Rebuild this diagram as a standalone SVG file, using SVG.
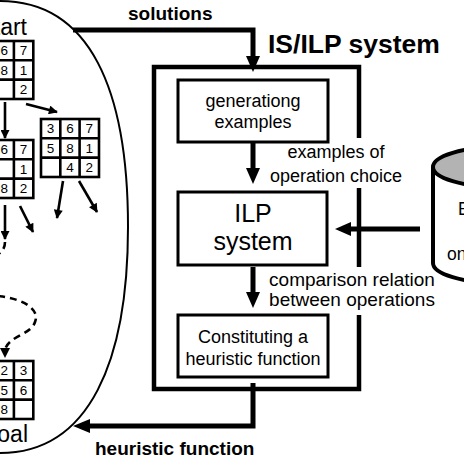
<svg xmlns="http://www.w3.org/2000/svg" width="464" height="464" viewBox="0 0 464 464">
<defs>
<style>
.grid text{font-family:"Liberation Sans",Arial,sans-serif;font-size:13.5px;text-anchor:middle;fill:#000}
.big{font-family:"Liberation Sans",Arial,sans-serif;font-size:23px;fill:#000}
.bold{font-family:"Liberation Sans",Arial,sans-serif;font-weight:bold;fill:#000}
.lbl{font-family:"Liberation Sans",Arial,sans-serif;font-size:18px;fill:#000;text-anchor:middle}
.box{fill:#fff;stroke:#000;stroke-width:3}
.thick{fill:none;stroke:#000;stroke-width:5}
.frame{fill:none;stroke:#000;stroke-width:4.5}
.thin{fill:none;stroke:#000;stroke-width:2.6}
.dash{fill:none;stroke:#000;stroke-width:2.6;stroke-dasharray:7 5}
</style>
<marker id="ah" viewBox="0 0 10 10" refX="9" refY="5" markerWidth="10" markerHeight="9" markerUnits="userSpaceOnUse" orient="auto">
<path d="M0,0 L10,5 L0,10 z" fill="#000"/>
</marker>
<g id="g3x3" fill="none" stroke="#000" stroke-width="2.6">
<rect x="0" y="0" width="58" height="58"/>
<line x1="19.3" y1="0" x2="19.3" y2="58"/>
<line x1="38.6" y1="0" x2="38.6" y2="58"/>
<line x1="0" y1="19.3" x2="58" y2="19.3"/>
<line x1="0" y1="38.6" x2="58" y2="38.6"/>
</g>
</defs>
<rect width="464" height="464" fill="#fff"/>

<g id="search-space">
<path d="M -10 1 L 0 1 C 90 1, 128 90, 128 227 C 128 360, 90 453, 0 453 L -10 453" fill="none" stroke="#000" stroke-width="2"/>
<text class="big" x="27" y="35" text-anchor="end">Start</text>
<text class="big" x="28" y="442" text-anchor="end">Goal</text>
</g>

<g id="state-start" class="grid" transform="translate(-24.7,41)">
<use href="#g3x3"/>
<text x="9.6" y="14.4">3</text><text x="29" y="14.4">6</text><text x="48.3" y="14.4">7</text>
<text x="9.6" y="33.7">5</text><text x="29" y="33.7">8</text><text x="48.3" y="33.7">1</text>
<text x="9.6" y="53">4</text><text x="48.3" y="53">2</text>
</g>

<g id="state-up" class="grid" transform="translate(-24.7,140)">
<use href="#g3x3"/>
<text x="9.6" y="14.4">3</text><text x="29" y="14.4">6</text><text x="48.3" y="14.4">7</text>
<text x="9.6" y="33.7">5</text><text x="48.3" y="33.7">1</text>
<text x="9.6" y="53">4</text><text x="29" y="53">8</text><text x="48.3" y="53">2</text>
</g>

<g id="state-left" class="grid" transform="translate(41,119)">
<use href="#g3x3"/>
<text x="9.6" y="14.4">3</text><text x="29" y="14.4">6</text><text x="48.3" y="14.4">7</text>
<text x="9.6" y="33.7">5</text><text x="29" y="33.7">8</text><text x="48.3" y="33.7">1</text>
<text x="29" y="53">4</text><text x="48.3" y="53">2</text>
</g>

<g id="state-goal" class="grid" transform="translate(-24.7,361)">
<use href="#g3x3"/>
<text x="9.6" y="14.4">1</text><text x="29" y="14.4">2</text><text x="48.3" y="14.4">3</text>
<text x="9.6" y="33.7">4</text><text x="29" y="33.7">5</text><text x="48.3" y="33.7">6</text>
<text x="9.6" y="53">7</text><text x="29" y="53">8</text>
</g>

<g id="is-ilp-system">
<path class="frame" d="M 359 138 V 67 H 154 V 389 H 359 V 315"/>
<path class="frame" d="M 359 188 V 267"/>
<text class="bold" x="268" y="53" style="font-size:26.5px">IS/ILP system</text>
</g>

<g id="generating-examples">
<rect class="box" x="178" y="80" width="150" height="62"/>
<text class="lbl" x="253" y="107">generationg</text>
<text class="lbl" x="253" y="128">examples</text>
</g>

<g id="ilp-system">
<rect class="box" x="178" y="192" width="149" height="73"/>
<text class="lbl" x="253" y="222" style="font-size:25px">ILP</text>
<text class="lbl" x="253" y="250" style="font-size:25px">system</text>
</g>

<g id="constituting">
<rect class="box" x="178" y="315" width="150" height="62"/>
<text class="lbl" x="253" y="343">Constituting a</text>
<text class="lbl" x="253" y="365">heuristic function</text>
</g>

<g id="background-knowledge">
<path d="M 433 167 V 263 A 67 20 0 0 0 567 263 V 167" fill="#fff" stroke="#000" stroke-width="4"/>
<ellipse cx="500" cy="167" rx="67" ry="20" fill="#b3b3b3" stroke="#000" stroke-width="4"/>
<text class="lbl" x="458" y="215" style="text-anchor:start;font-size:17.5px">Background</text>
<text class="lbl" x="466" y="237" style="text-anchor:start;font-size:17.5px">knowledge</text>
<text class="lbl" x="447" y="260" style="text-anchor:start;font-size:17.5px">on operations</text>
</g>

<g id="connectors">
<line class="thin" x1="5" y1="102" x2="5" y2="138" marker-end="url(#ah)"/>
<line class="thin" x1="26" y1="104" x2="57" y2="112" marker-end="url(#ah)"/>
<line class="thin" x1="5" y1="205" x2="5" y2="239" marker-end="url(#ah)"/>
<path class="dash" d="M 5 242 Q 5 252 -6 256"/>
<line class="thin" x1="20" y1="206" x2="33" y2="232" marker-end="url(#ah)"/>
<line class="thin" x1="63" y1="181" x2="57" y2="218" marker-end="url(#ah)"/>
<line class="thin" x1="79" y1="181" x2="97" y2="212" marker-end="url(#ah)"/>
<path class="dash" d="M -2 296 C 25 299, 40 310, 35 322 C 31 335, 8 336, 5 350"/>
<polygon points="0,348 10,348 5,358" fill="#000"/>

<path class="thick" d="M 73 30 H 253 V 58"/>
<polygon points="246,56 260,56 253,72" fill="#000"/>
<text class="bold" x="128" y="20" style="font-size:19px">solutions</text>

<line class="thick" x1="253" y1="142" x2="253" y2="170"/>
<polygon points="246,168 260,168 253,184" fill="#000"/>
<text class="lbl" x="336" y="158">examples of</text>
<text class="lbl" x="336" y="182">operation choice</text>

<line class="thick" x1="420" y1="229" x2="348" y2="229"/>
<polygon points="351,222 351,236 335,229" fill="#000"/>

<line class="thick" x1="253" y1="267" x2="253" y2="294"/>
<polygon points="246,292 260,292 253,308" fill="#000"/>
<text class="lbl" x="352" y="286" style="font-size:19px">comparison relation</text>
<text class="lbl" x="352" y="306" style="font-size:19px">between operations</text>

<path class="thick" d="M 253 383 V 426 H 88"/>
<polygon points="90,419 90,433 73,426" fill="#000"/>
<text class="bold" x="95" y="455" style="font-size:19px">heuristic function</text>
</g>
</svg>
